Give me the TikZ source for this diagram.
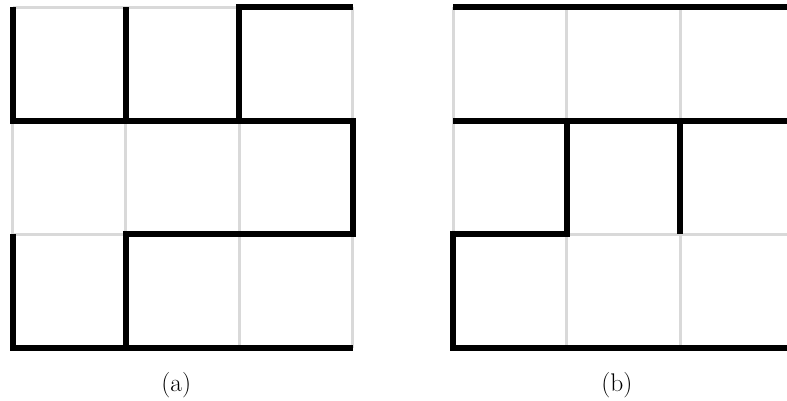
\documentclass[tikz,border=0pt]{standalone}
\usepackage{fontspec}
\begin{document}
\begin{tikzpicture}[x=1pt,y=-1pt,
  gridline/.style={draw=black!15, line width=3pt},
  wall/.style={draw=black, line width=6pt, line join=miter},
  caption/.style={font=\fontsize{25.5}{30}\selectfont, inner sep=0pt}]
\useasboundingbox (0,0) rectangle (787,400);
% (a) grid
\foreach \i in {0,1,2,3} {
  \draw[gridline] (12.5+113.4*\i,7.3) -- (12.5+113.4*\i,347.7);
  \draw[gridline] (12.5,7.3+113.5*\i) -- (352.7,7.3+113.5*\i);
}
% (a) walls
\draw[wall] (12.5,7.3) -- (12.5,120.8) -- (352.7,120.8) -- (352.7,234.2) -- (125.9,234.2) -- (125.9,347.7);
\draw[wall] (125.9,7.3) -- (125.9,120.8);
\draw[wall] (239.3,120.8) -- (239.3,7.3) -- (352.7,7.3);
\draw[wall] (12.5,234.2) -- (12.5,347.7) -- (352.7,347.7);
\node[caption] (capa) at (176.2,384.7) {(a)};
% (b) grid
\foreach \i in {0,1,2,3} {
  \draw[gridline] (453.3+113.4*\i,7.3) -- (453.3+113.4*\i,347.7);
  \draw[gridline] (453.3,7.3+113.5*\i) -- (793.5,7.3+113.5*\i);
}
% (b) walls
\draw[wall] (453.3,7.3) -- (793.5,7.3);
\draw[wall] (453.3,120.8) -- (793.5,120.8);
\draw[wall] (566.7,120.8) -- (566.7,234.2) -- (453.3,234.2) -- (453.3,347.7) -- (793.5,347.7);
\draw[wall] (680.1,120.8) -- (680.1,234.2);
\node[caption] (capb) at (616.8,384.7) {(b)};
\end{tikzpicture}
\end{document}
